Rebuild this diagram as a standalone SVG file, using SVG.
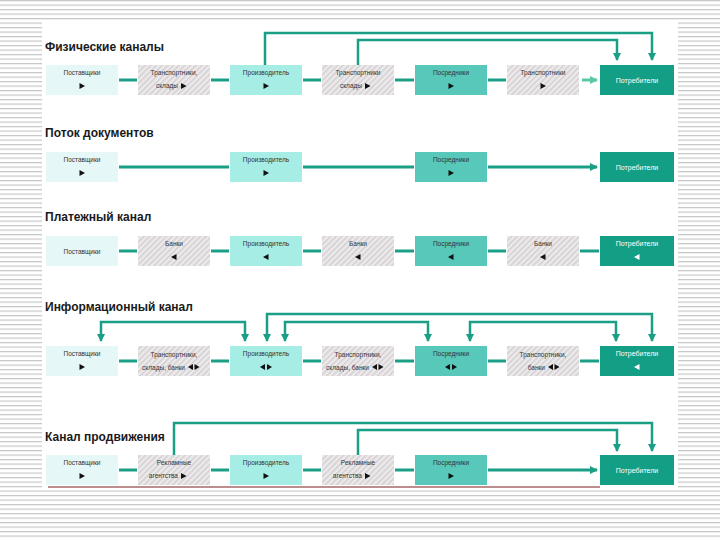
<svg xmlns="http://www.w3.org/2000/svg" width="720" height="540" viewBox="0 0 720 540">
<defs>
<pattern id="stripes" patternUnits="userSpaceOnUse" width="8" height="4.5">
<rect width="8" height="4.5" fill="#ffffff"/>
<rect y="0" width="8" height="1.2" fill="#c6c6c6"/>
</pattern>
<pattern id="hatch" patternUnits="userSpaceOnUse" width="4" height="4" patternTransform="rotate(45)">
<rect width="4" height="4" fill="#eceaeb"/>
<rect width="1.6" height="4" fill="#d5d0d3"/>
</pattern>
<marker id="ah" markerWidth="8" markerHeight="8" refX="7" refY="4" orient="auto-start-reverse" markerUnits="userSpaceOnUse">
<path d="M0,0 L8,4 L0,8 Z" fill="#1a9f86"/>
</marker>
<marker id="ahl" markerWidth="8" markerHeight="8" refX="7" refY="4" orient="auto" markerUnits="userSpaceOnUse">
<path d="M0,0 L8,4 L0,8 Z" fill="#5cc7a6"/>
</marker>
<style>
.title{font-family:"Liberation Sans",Arial,sans-serif;font-size:12px;font-weight:bold;fill:#1a1a1a}
.t{font-family:"Liberation Sans",Arial,sans-serif;font-size:6.5px;fill:#333;text-anchor:middle}
.te{font-family:"Liberation Sans",Arial,sans-serif;font-size:6.5px;fill:#333;text-anchor:end}
.tw{font-family:"Liberation Sans",Arial,sans-serif;font-size:7px;fill:#ffffff;text-anchor:middle}
.sup{fill:#e5f7f7}
.tr{fill:url(#hatch)}
.pro{fill:#a6ede6}
.mid{fill:#58c8ba}
.con{fill:#139e86}
.tri{fill:#111}
.triw{fill:#fff}
.c{stroke:#1a9f86;stroke-width:3;fill:none}
.cl{stroke:#5cc7a6;stroke-width:3;fill:none}
.v{stroke:#1a9f86;stroke-width:2.5;fill:none}
</style>
</defs>
<rect width="720" height="540" fill="url(#stripes)"/>
<rect x="42" y="22" width="636" height="468" fill="#ffffff"/>
<line x1="48" y1="487" x2="600" y2="487" stroke="#7a1f1f" stroke-width="1.2"/>

<g id="titles">
<text class="title" x="45" y="51">Физические каналы</text>
<text class="title" x="45" y="137">Поток документов</text>
<text class="title" x="45" y="221">Платежный канал</text>
<text class="title" x="45" y="311">Информационный канал</text>
<text class="title" x="45" y="441">Канал продвижения</text>
</g>

<g id="connectors">
<!-- row 1 -->
<line class="c" x1="119" y1="80" x2="137" y2="80"/>
<line class="c" x1="211" y1="80" x2="229" y2="80"/>
<line class="c" x1="303" y1="80" x2="321" y2="80"/>
<line class="c" x1="395" y1="80" x2="414" y2="80"/>
<line class="c" x1="488" y1="80" x2="506" y2="80"/>
<line class="cl" x1="582" y1="80" x2="597" y2="80" marker-end="url(#ahl)"/>
<polyline class="v" points="265,65 265,33 652,33 652,60" marker-end="url(#ah)"/>
<polyline class="v" points="358,65 358,40 617,40 617,60" marker-end="url(#ah)"/>
<!-- row 2 -->
<line class="c" x1="119" y1="167" x2="229" y2="167"/>
<line class="c" x1="303" y1="167" x2="414" y2="167"/>
<line class="c" x1="488" y1="167" x2="597" y2="167" marker-end="url(#ah)"/>
<!-- row 3 -->
<line class="c" x1="119" y1="251" x2="137" y2="251"/>
<line class="c" x1="211" y1="251" x2="229" y2="251"/>
<line class="c" x1="303" y1="251" x2="321" y2="251"/>
<line class="c" x1="395" y1="251" x2="414" y2="251"/>
<line class="c" x1="488" y1="251" x2="506" y2="251"/>
<line class="c" x1="580" y1="251" x2="599" y2="251"/>
<!-- row 4 -->
<line class="c" x1="119" y1="361" x2="137" y2="361"/>
<line class="c" x1="211" y1="361" x2="229" y2="361"/>
<line class="c" x1="303" y1="361" x2="321" y2="361"/>
<line class="c" x1="395" y1="361" x2="414" y2="361"/>
<line class="c" x1="488" y1="361" x2="506" y2="361"/>
<line class="c" x1="580" y1="361" x2="599" y2="361"/>
<polyline class="v" points="101,341 101,322 245,322 245,341" marker-start="url(#ah)" marker-end="url(#ah)"/>
<polyline class="v" points="267,341 267,314 652,314 652,341" marker-start="url(#ah)" marker-end="url(#ah)"/>
<polyline class="v" points="285,341 285,322 428,322 428,341" marker-start="url(#ah)" marker-end="url(#ah)"/>
<polyline class="v" points="470,341 470,322 616,322 616,341" marker-start="url(#ah)" marker-end="url(#ah)"/>
<!-- row 5 -->
<line class="c" x1="119" y1="470" x2="137" y2="470"/>
<line class="c" x1="211" y1="470" x2="229" y2="470"/>
<line class="c" x1="303" y1="470" x2="321" y2="470"/>
<line class="c" x1="395" y1="470" x2="414" y2="470"/>
<line class="c" x1="488" y1="470" x2="597" y2="470" marker-end="url(#ah)"/>
<polyline class="v" points="174,455 174,423 652,423 652,451" marker-end="url(#ah)"/>
<polyline class="v" points="358,455 358,430 617,430 617,451" marker-end="url(#ah)"/>
</g>

<!-- ROW 1 -->
<g id="r1-postavshiki"><rect class="sup" x="46" y="65" width="72" height="30"/><text class="t" x="82" y="75">Поставщики</text><polygon class="tri" points="79.5,83 85,86 79.5,89"/></g>
<g id="r1-transport1"><rect class="tr" x="138" y="65" width="72" height="30"/><text class="t" x="174" y="75">Транспортники,</text><text class="te" x="178" y="88">склады</text><polygon class="tri" points="181,83 186.5,86 181,89"/></g>
<g id="r1-proizvoditel"><rect class="pro" x="230" y="65" width="72" height="30"/><text class="t" x="266" y="75">Производитель</text><polygon class="tri" points="263.5,83 269,86 263.5,89"/></g>
<g id="r1-transport2"><rect class="tr" x="322" y="65" width="72" height="30"/><text class="t" x="358" y="75">Транспортники</text><text class="te" x="362" y="88">склады</text><polygon class="tri" points="365,83 370.5,86 365,89"/></g>
<g id="r1-posredniki"><rect class="mid" x="415" y="65" width="72" height="30"/><text class="t" x="451" y="75">Посредники</text><polygon class="tri" points="448.5,83 454,86 448.5,89"/></g>
<g id="r1-transport3"><rect class="tr" x="507" y="65" width="72" height="30"/><text class="t" x="543" y="75">Транспортники</text><polygon class="tri" points="540.5,83 546,86 540.5,89"/></g>
<g id="r1-potrebiteli"><rect class="con" x="600" y="65" width="74" height="30"/><text class="tw" x="637" y="82.5">Потребители</text></g>

<!-- ROW 2 -->
<g id="r2-postavshiki"><rect class="sup" x="46" y="152" width="72" height="30"/><text class="t" x="82" y="162">Поставщики</text><polygon class="tri" points="79.5,170 85,173 79.5,176"/></g>
<g id="r2-proizvoditel"><rect class="pro" x="230" y="152" width="72" height="30"/><text class="t" x="266" y="162">Производитель</text><polygon class="tri" points="263.5,170 269,173 263.5,176"/></g>
<g id="r2-posredniki"><rect class="mid" x="415" y="152" width="72" height="30"/><text class="t" x="451" y="162">Посредники</text><polygon class="tri" points="448.5,170 454,173 448.5,176"/></g>
<g id="r2-potrebiteli"><rect class="con" x="600" y="152" width="74" height="30"/><text class="tw" x="637" y="169.5">Потребители</text></g>

<!-- ROW 3 -->
<g id="r3-postavshiki"><rect class="sup" x="46" y="236" width="72" height="30"/><text class="t" x="82" y="253.5">Поставщики</text></g>
<g id="r3-banki1"><rect class="tr" x="138" y="236" width="72" height="30"/><text class="t" x="174" y="246">Банки</text><polygon class="tri" points="176.5,254 171,257 176.5,260"/></g>
<g id="r3-proizvoditel"><rect class="pro" x="230" y="236" width="72" height="30"/><text class="t" x="266" y="246">Производитель</text><polygon class="tri" points="268.5,254 263,257 268.5,260"/></g>
<g id="r3-banki2"><rect class="tr" x="322" y="236" width="72" height="30"/><text class="t" x="358" y="246">Банки</text><polygon class="tri" points="360.5,254 355,257 360.5,260"/></g>
<g id="r3-posredniki"><rect class="mid" x="415" y="236" width="72" height="30"/><text class="t" x="451" y="246">Посредники</text><polygon class="tri" points="453.5,254 448,257 453.5,260"/></g>
<g id="r3-banki3"><rect class="tr" x="507" y="236" width="72" height="30"/><text class="t" x="543" y="246">Банки</text><polygon class="tri" points="545.5,254 540,257 545.5,260"/></g>
<g id="r3-potrebiteli"><rect class="con" x="600" y="236" width="74" height="30"/><text class="tw" x="637" y="246">Потребители</text><polygon class="triw" points="639.5,254 634,257 639.5,260"/></g>

<!-- ROW 4 -->
<g id="r4-postavshiki"><rect class="sup" x="46" y="346" width="72" height="30"/><text class="t" x="82" y="356">Поставщики</text><polygon class="tri" points="79.5,364 85,367 79.5,370"/></g>
<g id="r4-transport1"><rect class="tr" x="138" y="346" width="72" height="30"/><text class="t" x="174" y="357">Транспортники,</text><text class="te" x="185" y="370">склады, банки</text><polygon class="tri" points="193,364 188,367 193,370"/><polygon class="tri" points="194.5,364 199.5,367 194.5,370"/></g>
<g id="r4-proizvoditel"><rect class="pro" x="230" y="346" width="72" height="30"/><text class="t" x="266" y="356">Производитель</text><polygon class="tri" points="265,364 260,367 265,370"/><polygon class="tri" points="267,364 272,367 267,370"/></g>
<g id="r4-transport2"><rect class="tr" x="322" y="346" width="72" height="30"/><text class="t" x="358" y="357">Транспортники,</text><text class="te" x="369" y="370">склады, банки</text><polygon class="tri" points="377,364 372,367 377,370"/><polygon class="tri" points="378.5,364 383.5,367 378.5,370"/></g>
<g id="r4-posredniki"><rect class="mid" x="415" y="346" width="72" height="30"/><text class="t" x="451" y="356">Посредники</text><polygon class="tri" points="450,364 445,367 450,370"/><polygon class="tri" points="452,364 457,367 452,370"/></g>
<g id="r4-transport3"><rect class="tr" x="507" y="346" width="72" height="30"/><text class="t" x="543" y="357">Транспортники,</text><text class="te" x="545" y="370">банки</text><polygon class="tri" points="553,364 548,367 553,370"/><polygon class="tri" points="554.5,364 559.5,367 554.5,370"/></g>
<g id="r4-potrebiteli"><rect class="con" x="600" y="346" width="74" height="30"/><text class="tw" x="637" y="356">Потребители</text><polygon class="triw" points="639.5,364 634,367 639.5,370"/></g>

<!-- ROW 5 -->
<g id="r5-postavshiki"><rect class="sup" x="46" y="455" width="72" height="30"/><text class="t" x="82" y="465">Поставщики</text><polygon class="tri" points="79.5,473 85,476 79.5,479"/></g>
<g id="r5-reklama1"><rect class="tr" x="138" y="455" width="72" height="30"/><text class="t" x="174" y="465">Рекламные</text><text class="te" x="178" y="478">агентства</text><polygon class="tri" points="181,473 186.5,476 181,479"/></g>
<g id="r5-proizvoditel"><rect class="pro" x="230" y="455" width="72" height="30"/><text class="t" x="266" y="465">Производитель</text><polygon class="tri" points="263.5,473 269,476 263.5,479"/></g>
<g id="r5-reklama2"><rect class="tr" x="322" y="455" width="72" height="30"/><text class="t" x="358" y="465">Рекламные</text><text class="te" x="362" y="478">агентства</text><polygon class="tri" points="365,473 370.5,476 365,479"/></g>
<g id="r5-posredniki"><rect class="mid" x="415" y="455" width="72" height="30"/><text class="t" x="451" y="465">Посредники</text><polygon class="tri" points="448.5,473 454,476 448.5,479"/></g>
<g id="r5-potrebiteli"><rect class="con" x="600" y="455" width="74" height="30"/><text class="tw" x="637" y="472.5">Потребители</text></g>
</svg>
